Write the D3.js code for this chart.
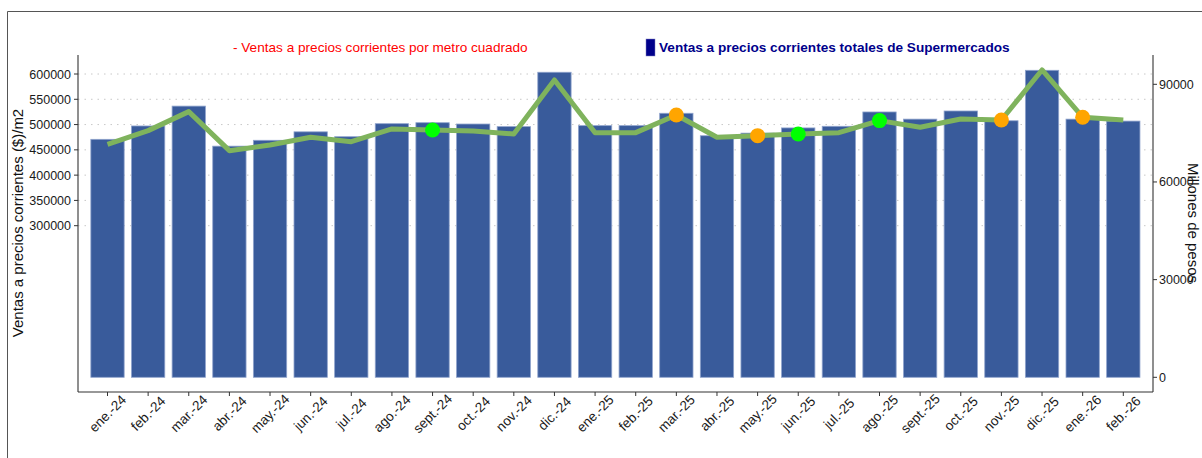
<!DOCTYPE html>
<html><head><meta charset="utf-8">
<script src="https://cdn.jsdelivr.net/npm/d3@7"></script>
<style>body{margin:0;background:#fff;}svg{display:block;font-family:"Liberation Sans",Arial,sans-serif;}</style>
</head><body><svg id="c" width="1202" height="458"></svg>
<script>
const months = ["ene.-24","feb.-24","mar.-24","abr.-24","may.-24","jun.-24","jul.-24","ago.-24","sept.-24","oct.-24","nov.-24","dic.-24",
"ene.-25","feb.-25","mar.-25","abr.-25","may.-25","jun.-25","jul.-25","ago.-25","sept.-25","oct.-25","nov.-25","dic.-25","ene.-26","feb.-26"];
// Ventas a precios corrientes totales (millones de pesos) - bars, right axis
const ventasTotales = [73100,77200,83300,71000,72800,75400,73900,77900,78200,77800,77000,93700,
77300,77300,81100,74200,75000,76600,77100,81500,79300,81800,78800,94300,79300,78700];
// Ventas por metro cuadrado ($/m2) - line, left axis
const ventasM2 = [461000,488000,525600,448400,459700,474900,466200,491300,489400,487400,481400,588300,
484000,484000,519000,474900,478100,481400,484000,507800,494700,511100,509100,608000,514500,509100];
const markerMonths = ["sept.-24","mar.-25","may.-25","jun.-25","ago.-25","nov.-25","ene.-26"];
const markerColors = ["#00ff00","#ffa500","#ffa500","#00ff00","#00ff00","#ffa500","#ffa500"];
const leftTicks = [300000,350000,400000,450000,500000,550000,600000];
const rightTicks = [0,30000,60000,90000];

const svg = d3.select("#c");
const L = 78, R = 1153, T = 55, B = 392;

// outer frame
svg.append("path").attr("d","M7.5,458 V11.5 H1202").attr("fill","none").attr("stroke","#555").attr("stroke-width",1);

const x = d3.scalePoint().domain(months).range([107.5, 1123.3]);
const step = x.step();
const yL = d3.scaleLinear().domain([-28873, 637580]).range([B, T]);
const yR = d3.scaleLinear().domain([-4515, 99000]).range([B, T]);

// grid
svg.append("g").selectAll("line").data(leftTicks).join("line")
  .attr("x1", L).attr("x2", R).attr("y1", d=>yL(d)).attr("y2", d=>yL(d))
  .attr("stroke","#c8c8c8").attr("stroke-width",1).attr("stroke-dasharray","1.5,5");

// bars
const bw = step*0.82;
svg.append("g").selectAll("rect").data(months).join("rect")
  .attr("x", d=>x(d)-bw/2).attr("width", bw)
  .attr("y", (d,i)=>yR(ventasTotales[i])).attr("height",(d,i)=>yR(0)-yR(ventasTotales[i]))
  .attr("fill","#395b9b").attr("stroke","#8fa3cc").attr("stroke-width",0.8);

// line
const line = d3.line().x((d,i)=>x(months[i])).y(d=>yL(d));
svg.append("path").datum(ventasM2).attr("d", line).attr("fill","none")
  .attr("stroke","#7fb35d").attr("stroke-width",5).attr("stroke-linejoin","round");

// markers
svg.append("g").selectAll("circle").data(markerMonths).join("circle")
  .attr("cx", d=>x(d)).attr("cy", d=>yL(ventasM2[months.indexOf(d)])).attr("r",7.5)
  .attr("fill",(d,i)=>markerColors[i]);

// axes
const axisCol = "#333";
svg.append("line").attr("x1",L).attr("x2",L).attr("y1",T).attr("y2",B).attr("stroke",axisCol).attr("stroke-width",1.1);
svg.append("line").attr("x1",R).attr("x2",R).attr("y1",T).attr("y2",B).attr("stroke",axisCol).attr("stroke-width",1.1);
svg.append("line").attr("x1",L).attr("x2",R).attr("y1",B).attr("y2",B).attr("stroke",axisCol).attr("stroke-width",1.1);

const gl = svg.append("g");
gl.selectAll("line").data(leftTicks).join("line").attr("x1",L-4).attr("x2",L).attr("y1",d=>yL(d)).attr("y2",d=>yL(d)).attr("stroke",axisCol);
gl.selectAll("text").data(leftTicks).join("text").attr("x",L-7).attr("y",d=>yL(d)).attr("dy","0.36em")
  .attr("text-anchor","end").attr("font-size",12.5).attr("fill","#1a1a1a").text(d=>d);

const gr = svg.append("g");
gr.selectAll("line").data(rightTicks).join("line").attr("x1",R).attr("x2",R+4).attr("y1",d=>yR(d)).attr("y2",d=>yR(d)).attr("stroke",axisCol);
gr.selectAll("text").data(rightTicks).join("text").attr("x",R+6).attr("y",d=>yR(d)).attr("dy","0.36em")
  .attr("text-anchor","start").attr("font-size",12.5).attr("fill","#1a1a1a").text(d=>d);

const gx = svg.append("g");
gx.selectAll("line").data(months).join("line").attr("x1",d=>x(d)).attr("x2",d=>x(d)).attr("y1",B).attr("y2",B+4).attr("stroke",axisCol);
gx.selectAll("text").data(months).join("text")
  .attr("transform", d=>`translate(${x(d)},413.5) rotate(-45)`)
  .attr("text-anchor","middle").attr("dy","0.35em").attr("font-size",13.5).attr("fill","#1a1a1a").text(d=>d);

// axis titles
svg.append("text").attr("transform","translate(23,223) rotate(-90)").attr("text-anchor","middle")
  .attr("font-size",15).attr("fill","#111").text("Ventas a precios corrientes ($)/m2");
svg.append("text").attr("transform","translate(1188,223) rotate(90)").attr("text-anchor","middle")
  .attr("font-size",15).attr("fill","#111").text("Millones de pesos");

// legend
svg.append("text").attr("x",233).attr("y",52).attr("font-size",13.6).attr("fill","#ff0000")
  .text("- Ventas a precios corrientes por metro cuadrado");
svg.append("rect").attr("x",646).attr("y",39).attr("width",9).attr("height",17).attr("fill","#00008b").attr("stroke","#8080c0").attr("stroke-width",0.5);
svg.append("text").attr("x",659).attr("y",52).attr("font-size",13.6).attr("font-weight","bold").attr("fill","#00008b")
  .text("Ventas a precios corrientes totales de Supermercados");
</script></body></html>
